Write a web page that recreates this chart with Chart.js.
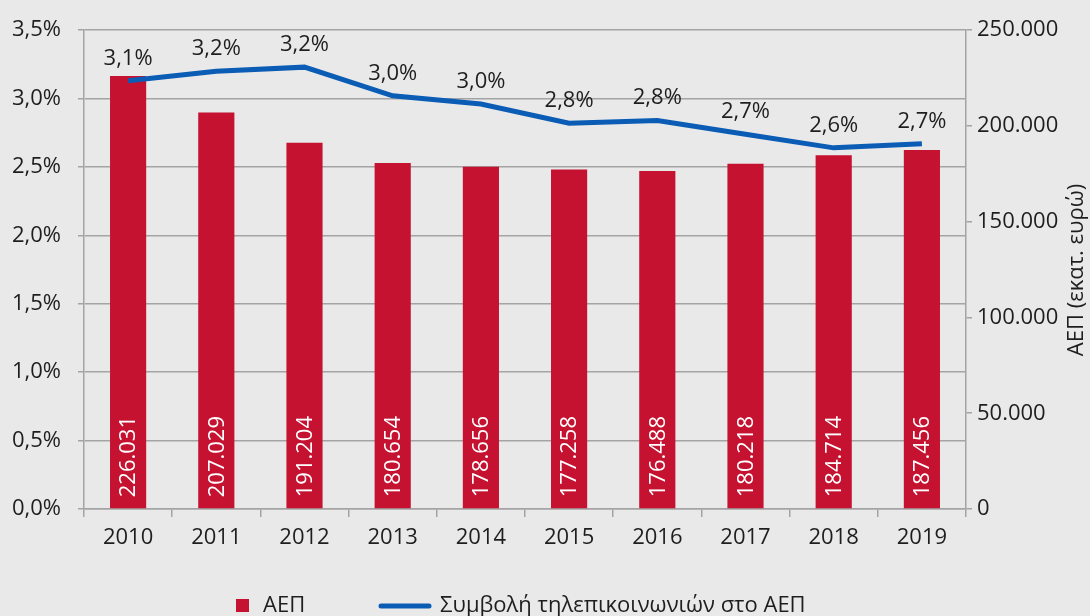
<!DOCTYPE html>
<html>
<head>
<meta charset="utf-8">
<script src="https://cdn.jsdelivr.net/npm/chart.js@4"></script>
<style>
  html, body { margin: 0; padding: 0; background: #e9e9e9; }
  #wrap { width: 1090px; height: 616px; }
</style>
</head>
<body>
<div id="wrap"><canvas id="c" width="1090" height="616"></canvas></div>
<script>
// Données
const years = ['2010','2011','2012','2013','2014','2015','2016','2017','2018','2019'];
const gdp = [226031, 207029, 191204, 180654, 178656, 177258, 176488, 180218, 184714, 187456];
const telecomShare = [3.13, 3.20, 3.23, 3.02, 2.96, 2.82, 2.84, 2.74, 2.64, 2.67];
const shareLabels = ['3,1%','3,2%','3,2%','3,0%','3,0%','2,8%','2,8%','2,7%','2,6%','2,7%'];

const FONT = '"Open Sans", "DejaVu Sans", sans-serif';
const FS = 22;
const RED = '#c41230', BLUE = '#0b5cb5', GRID = '#a4a4a4', TXT = '#1e1e1e';

const fmtThousands = v => String(v).replace(/\B(?=(\d{3})+(?!\d))/g, '.');

// Fond gris sur tout le canvas
const bgPlugin = { id:'bg', beforeDraw(chart) {
  const { ctx } = chart;
  ctx.save();
  ctx.fillStyle = '#e9e9e9';
  ctx.fillRect(0, 0, chart.width, chart.height);
  ctx.restore();
}};

// Valeurs du PIB, en blanc, à la verticale dans chaque barre
const barLabels = { id:'barLabels', afterDatasetsDraw(chart) {
  const { ctx } = chart;
  const meta = chart.getDatasetMeta(1);
  ctx.save();
  ctx.font = `${FS}px ${FONT}`;
  ctx.fillStyle = '#ffffff';
  ctx.textAlign = 'left'; ctx.textBaseline = 'middle';
  meta.data.forEach((bar, i) => {
    ctx.save();
    ctx.translate(bar.x, bar.base - 11);
    ctx.rotate(-Math.PI / 2);
    ctx.fillText(fmtThousands(gdp[i]), 0, 1);
    ctx.restore();
  });
  ctx.restore();
}};

// Pourcentages au-dessus de la courbe
const lineLabels = { id:'lineLabels', afterDatasetsDraw(chart) {
  const { ctx } = chart;
  const meta = chart.getDatasetMeta(0);
  ctx.save();
  ctx.font = `${FS}px ${FONT}`;
  ctx.fillStyle = TXT;
  ctx.textAlign = 'center'; ctx.textBaseline = 'alphabetic';
  meta.data.forEach((pt, i) => ctx.fillText(shareLabels[i], pt.x, pt.y - 16));
  ctx.restore();
}};

// Titre de l'axe de droite, lu de bas en haut
const rightTitle = { id:'rightTitle', afterDraw(chart) {
  const { ctx } = chart;
  ctx.save();
  ctx.font = `${FS}px ${FONT}`;
  ctx.fillStyle = TXT;
  ctx.textAlign = 'center'; ctx.textBaseline = 'middle';
  ctx.translate(1077, 270);
  ctx.rotate(-Math.PI / 2);
  ctx.fillText('ΑΕΠ (εκατ. ευρώ)', 0, 0);
  ctx.restore();
}};

// Légende en bas : carré rouge pour les barres, trait bleu pour la courbe
const legendPlugin = { id:'customLegend', afterDraw(chart) {
  const { ctx } = chart;
  const y = 606;
  ctx.save();
  ctx.font = `${FS}px ${FONT}`;
  ctx.textBaseline = 'middle'; ctx.textAlign = 'left';
  ctx.fillStyle = RED;
  ctx.fillRect(236, y - 7, 13, 13);
  ctx.fillStyle = TXT;
  ctx.fillText(chart.data.datasets[1].label, 263, y);
  ctx.strokeStyle = BLUE; ctx.lineWidth = 5; ctx.lineCap = 'round';
  ctx.beginPath(); ctx.moveTo(381, y); ctx.lineTo(429, y); ctx.stroke();
  ctx.fillText(chart.data.datasets[0].label, 440, y);
  ctx.restore();
}};

new Chart(document.getElementById('c').getContext('2d'), {
  type: 'bar',
  data: {
    labels: years,
    datasets: [{
      type: 'line',
      label: 'Συμβολή τηλεπικοινωνιών στο ΑΕΠ',
      data: telecomShare,
      yAxisID: 'y',
      borderColor: BLUE,
      borderWidth: 5,
      pointRadius: 0,
      tension: 0,
      order: 0,
    }, {
      type: 'bar',
      label: 'ΑΕΠ',
      data: gdp,
      yAxisID: 'y1',
      backgroundColor: RED,
      barPercentage: 0.41,
      categoryPercentage: 1,
      order: 1,
    }]
  },
  options: {
    responsive: false,
    animation: false,
    plugins: { legend: { display: false }, tooltip: { enabled: false } },
    layout: { padding: { top: 27, left: 0, right: 0, bottom: 0 } },
    scales: {
      x: {
        offset: true,
        grid: { offset: true, drawOnChartArea: false, drawTicks: true, tickLength: 8, color: GRID, lineWidth: 1.5 },
        border: { display: true, color: GRID, width: 1.5 },
        ticks: { color: TXT, font: { family: FONT, size: FS }, padding: 8 },
        afterFit: s => { s.height = 107; }
      },
      y: {
        position: 'left',
        min: 0, max: 3.5,
        grid: { color: GRID, lineWidth: 1.5, tickLength: 6 },
        border: { display: true, color: GRID, width: 1.5 },
        ticks: { stepSize: 0.5, color: TXT, font: { family: FONT, size: FS }, padding: 17,
                 callback: v => v.toFixed(1).replace('.', ',') + '%' },
        afterFit: s => { s.width = 84; }
      },
      y1: {
        position: 'right',
        min: 0, max: 250000,
        grid: { drawOnChartArea: false, color: GRID, lineWidth: 1.5, tickLength: 6 },
        border: { display: true, color: GRID, width: 1.5 },
        ticks: { stepSize: 50000, color: TXT, font: { family: FONT, size: FS }, padding: 5,
                 callback: v => fmtThousands(v) },
        afterFit: s => { s.width = 124; }
      }
    }
  },
  plugins: [ bgPlugin, barLabels, lineLabels, rightTitle, legendPlugin ]
});
</script>
</body>
</html>
